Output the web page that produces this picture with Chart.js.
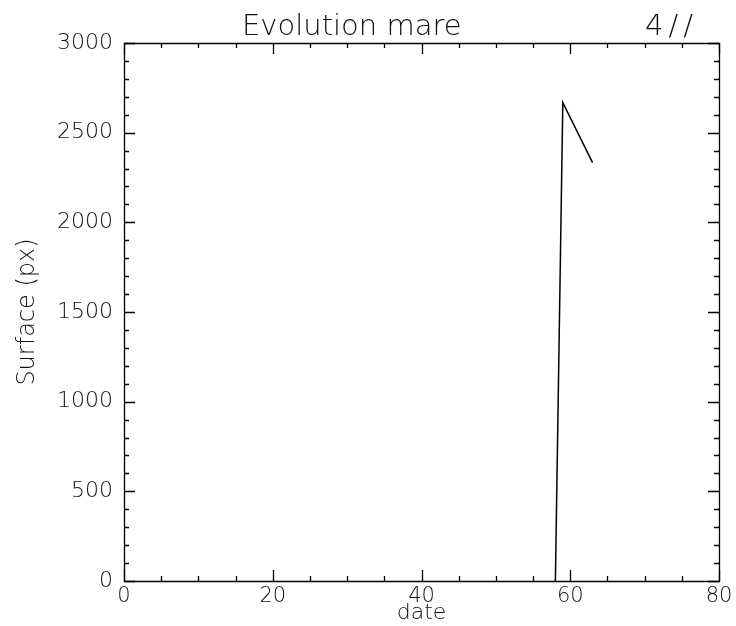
<!DOCTYPE html>
<html>
<head>
<meta charset="utf-8">
<script src="https://cdn.jsdelivr.net/npm/chart.js@4/dist/chart.umd.min.js"></script>
<style>
  html, body { margin: 0; padding: 0; background: #fff; }
  #wrap { width: 736px; height: 626px; }
</style>
</head>
<body>
<div id="wrap"><canvas id="c" width="736" height="626"></canvas></div>
<script>
// ---- data ----
const titleMain = "Evolution mare";
const titleTag = "4//";
const xLabel = "date";
const yLabel = "Surface (px)";
const dates = [58, 59, 63];
const surface = [0, 2667, 2333];
const xMajorTicks = [0, 20, 40, 60, 80];
const xMinorTicks = [5, 10, 15, 25, 30, 35, 45, 50, 55, 65, 70, 75];
const yMajorTicks = [0, 500, 1000, 1500, 2000, 2500, 3000];
const yMinorTicks = [100,200,300,400,600,700,800,900,1100,1200,1300,1400,1600,1700,1800,1900,2100,2200,2300,2400,2600,2700,2800,2900];

const FONT = "'DejaVu Sans', sans-serif";
const INK = '#111';

const points = dates.map((d, i) => ({ x: d, y: surface[i] }));

const frameTicks = {
  id: 'frameTicks',
  afterDatasetsDraw(chart) {
    const { ctx, chartArea: a, scales: { x, y } } = chart;
    ctx.save();
    ctx.strokeStyle = '#000';
    ctx.lineWidth = 1.3;
    ctx.beginPath();
    ctx.rect(Math.round(a.left) + 0.5, Math.round(a.top) + 0.5, Math.round(a.right - a.left), Math.round(a.bottom - a.top));
    ctx.stroke();
    const tick = (vals, len) => {
      vals.forEach(v => {
        const px = Math.round(x.getPixelForValue(v)) + 0.5;
        ctx.moveTo(px, a.bottom); ctx.lineTo(px, a.bottom - len);
        ctx.moveTo(px, a.top); ctx.lineTo(px, a.top + len);
      });
    };
    const tickY = (vals, len) => {
      vals.forEach(v => {
        const py = Math.round(y.getPixelForValue(v)) + 0.5;
        ctx.moveTo(a.left, py); ctx.lineTo(a.left + len, py);
        ctx.moveTo(a.right, py); ctx.lineTo(a.right - len, py);
      });
    };
    ctx.beginPath();
    tick(xMajorTicks, 11);
    tick(xMinorTicks, 5);
    tickY(yMajorTicks, 11);
    tickY(yMinorTicks, 5);
    ctx.stroke();
    // title
    ctx.fillStyle = INK;
    ctx.font = "200 29px " + FONT;
    ctx.textBaseline = 'alphabetic';
    ctx.textAlign = 'left';
    ctx.fillText(titleMain, 242, 35);
    ctx.letterSpacing = '5px';
    ctx.fillText(titleTag, 645, 35);
    ctx.restore();
  }
};

new Chart(document.getElementById('c'), {
  type: 'line',
  data: {
    datasets: [{
      data: points,
      borderColor: '#000',
      borderWidth: 1.5,
      pointRadius: 0,
      tension: 0,
      fill: false
    }]
  },
  options: {
    responsive: false,
    animation: false,
    layout: { padding: { left: 0, right: 17, top: 43, bottom: 0 } },
    plugins: { legend: { display: false }, tooltip: { enabled: false }, title: { display: false } },
    scales: {
      x: {
        type: 'linear', min: 0, max: 80,
        afterFit(s) { s.height = 45; },
        afterBuildTicks(s) { s.ticks = xMajorTicks.map(v => ({ value: v })); },
        grid: { display: false, drawTicks: false },
        border: { display: false },
        ticks: { color: INK, font: { family: FONT, size: 21, weight: 200 }, padding: 3, maxRotation: 0, autoSkip: false,
                 callback: v => String(v) },
        title: { display: true, text: xLabel, color: INK, font: { family: FONT, size: 22, weight: 200 }, padding: { top: 0, bottom: 0 } }
      },
      y: {
        type: 'linear', min: 0, max: 3000,
        afterFit(s) { s.width = 124; },
        afterBuildTicks(s) { s.ticks = yMajorTicks.map(v => ({ value: v })); },
        grid: { display: false, drawTicks: false },
        border: { display: false },
        ticks: { color: INK, font: { family: FONT, size: 22, weight: 200 }, padding: 11, autoSkip: false,
                 callback: v => String(v) },
        title: { display: true, text: yLabel, color: INK, font: { family: FONT, size: 24, weight: 200 }, padding: { top: 13, bottom: 0 } }
      }
    }
  },
  plugins: [frameTicks]
});
</script>
</body>
</html>
